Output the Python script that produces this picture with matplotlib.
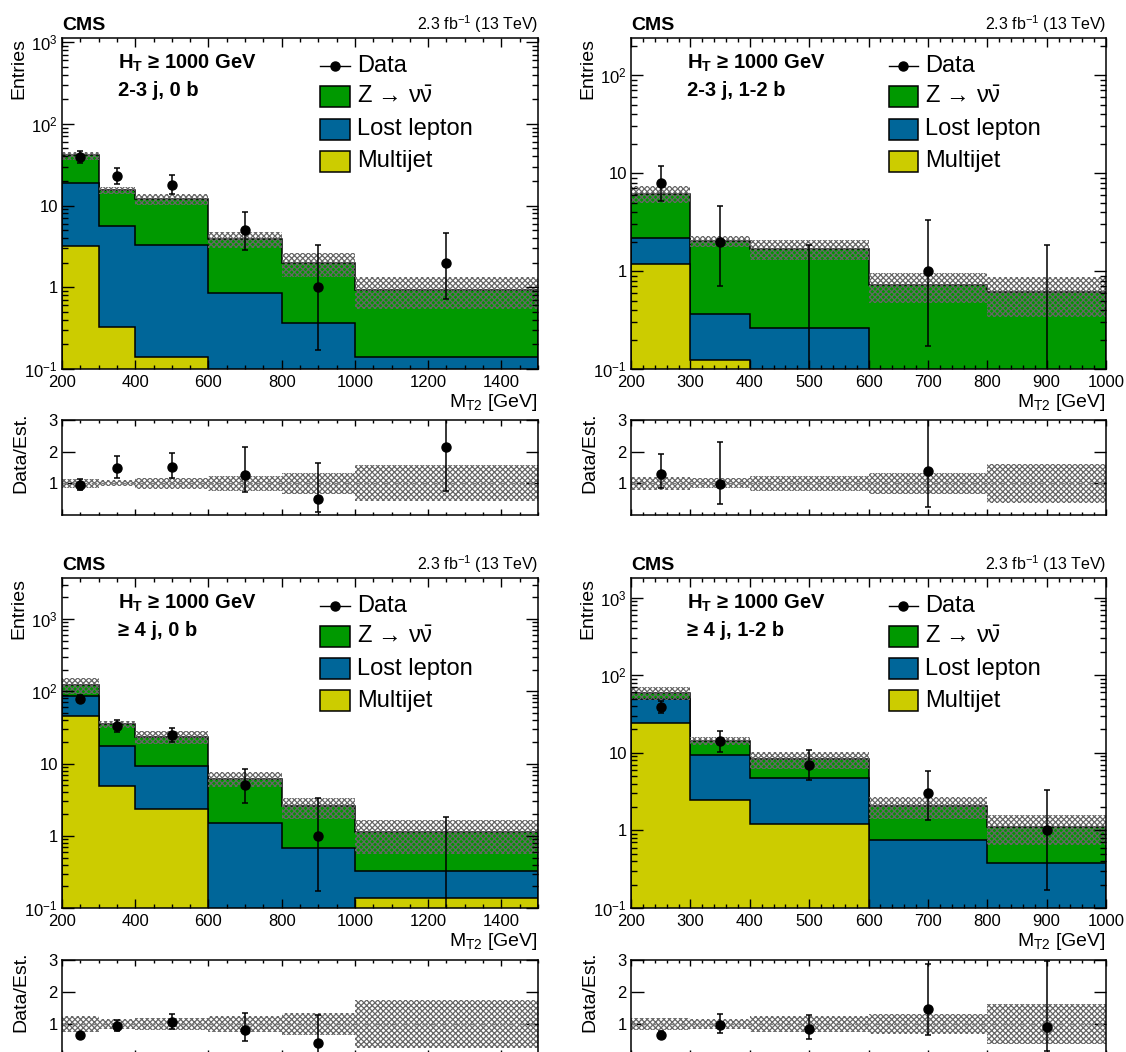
import matplotlib
matplotlib.use("Agg")
import matplotlib.pyplot as plt
import numpy as np
from matplotlib.patches import Rectangle
from matplotlib.lines import Line2D
from matplotlib.ticker import MultipleLocator, LogLocator, FuncFormatter, NullFormatter, FixedLocator, NullLocator

plt.rcParams['font.family'] = ['Liberation Sans', 'DejaVu Sans']
plt.rcParams['mathtext.fontset'] = 'custom'
plt.rcParams['mathtext.rm'] = 'Liberation Sans'
plt.rcParams['mathtext.it'] = 'Liberation Sans:italic'
plt.rcParams['mathtext.bf'] = 'Liberation Sans:bold'
plt.rcParams['hatch.linewidth'] = 0.9

# --- couleurs ---
c_zinv = '#009900'
c_lostlep = '#006699'
c_multijet = '#cccc00'
c_band = '#666666'

# --- binning M_T2 ---
edges_0b = [200, 300, 400, 600, 800, 1000, 1500]
edges_b = [200, 300, 400, 600, 800, 1000]

# --- 2-3 j, 0 b ---
multijet_23j0b = [3.18, 0.327, 0.139, 0, 0, 0]
lostlep_23j0b = [15.5, 5.28, 3.13, 0.86, 0.363, 0.141]
zinv_23j0b = [22.3, 9.9, 8.7, 3.05, 1.62, 0.79]
data_23j0b = [39, 23, 18, 5, 1, 2]
unc_23j0b = [0.11, 0.10, 0.15, 0.22, 0.33, 0.42]
uncr_23j0b = [0.15, 0.09, 0.17, 0.24, 0.33, 0.57]

# --- 2-3 j, 1-2 b ---
multijet_23j12b = [1.19, 0.124, 0, 0, 0]
lostlep_23j12b = [1.0, 0.237, 0.264, 0, 0]
zinv_23j12b = [3.96, 1.66, 1.43, 0.714, 0.61]
data_23j12b = [8, 2, 0, 1, 0]
unc_23j12b = [0.20, 0.13, 0.24, 0.34, 0.44]
uncr_23j12b = [0.20, 0.16, 0.23, 0.33, 0.61]

# --- >=4 j, 0 b ---
multijet_4j0b = [46.1, 4.81, 2.34, 0, 0, 0.137]
lostlep_4j0b = [40.1, 12.4, 6.76, 1.50, 0.683, 0.193]
zinv_4j0b = [35.8, 17.8, 14.5, 4.7, 1.86, 0.78]
data_4j0b = [79, 33, 25, 5, 1, 0]
unc_4j0b = [0.24, 0.11, 0.21, 0.23, 0.33, 0.50]
uncr_4j0b = [0.24, 0.16, 0.20, 0.25, 0.33, 0.74]

# --- >=4 j, 1-2 b ---
multijet_4j12b = [24.0, 2.50, 1.22, 0, 0]
lostlep_4j12b = [24.7, 6.93, 3.47, 0.744, 0.385]
zinv_4j12b = [10.7, 4.87, 3.61, 1.31, 0.725]
data_4j12b = [39, 14, 7, 3, 1]
unc_4j12b = [0.19, 0.13, 0.25, 0.32, 0.42]
uncr_4j12b = [0.20, 0.16, 0.26, 0.31, 0.62]

W, H = 1126, 1052
fig = plt.figure(figsize=(W / 100, H / 100), dpi=100)


def rect(x0, x1, ytop, ybot):
    return [x0 / W, 1 - ybot / H, (x1 - x0) / W, (ybot - ytop) / H]


def poisson_interval(n):
    # intervalle de Garwood (approximation Wilson-Hilferty)
    n = np.asarray(n, float)
    m = np.maximum(n, 1)
    lo = np.where(n > 0, n * (1 - 1 / (9 * m) - 1 / (3 * np.sqrt(m))) ** 3, 0)
    hi = (n + 1) * (1 - 1 / (9 * (n + 1)) + 1 / (3 * np.sqrt(n + 1))) ** 3
    return lo, hi


def log_label(v, pos):
    e = int(round(np.log10(v)))
    if e == 0:
        return '1'
    if e == 1:
        return '10'
    return r'$10^{%d}$' % e


def draw_panel(pos_main, pos_ratio, edges, multijet, lostlep, zinv, data, unc, uncr, ymax, label):
    edges = np.array(edges, float)
    mj = np.array(multijet, float)
    ll = np.array(lostlep, float)
    zn = np.array(zinv, float)
    dat = np.array(data, float)
    unc = np.array(unc, float)
    uncr = np.array(uncr, float)
    centers = 0.5 * (edges[1:] + edges[:-1])
    floor = 1e-3

    ax = fig.add_axes(rect(*pos_main))
    axr = fig.add_axes(rect(*pos_ratio))

    # --- empilement ---
    total = mj + ll + zn
    for vals, col in [(total, c_zinv), (mj + ll, c_lostlep), (mj, c_multijet)]:
        ax.stairs(np.maximum(vals, floor), edges, baseline=floor, fill=True,
                  facecolor=col, edgecolor='black', linewidth=1.1)
    # bande d'incertitude
    ax.stairs(total * (1 + unc), edges, baseline=total * (1 - unc), fill=True,
              facecolor='none', edgecolor=c_band, hatch='xxxxxx', linewidth=0)

    # --- données ---
    lo, hi = poisson_interval(dat)
    ax.vlines(centers, np.maximum(lo, floor), hi, color='black', linewidth=1.1, zorder=5)
    ax.plot(centers, hi, '_', color='black', markersize=4, markeredgewidth=1.1, zorder=5)
    ax.plot(centers[dat > 0], lo[dat > 0], '_', color='black', markersize=4, markeredgewidth=1.1, zorder=5)
    ax.plot(centers[dat > 0], dat[dat > 0], 'o', color='black', markersize=6.5, zorder=6)

    ax.set_yscale('log')
    ax.set_xlim(edges[0], edges[-1])
    ax.set_ylim(0.1, ymax)

    # --- rapport ---
    axr.stairs(1 + uncr, edges, baseline=1 - uncr, fill=True,
               facecolor='none', edgecolor=c_band, hatch='xxxxxx', linewidth=0)
    axr.axhline(1, color='gray', linestyle=(0, (4, 3)), linewidth=1)
    sel = dat > 0
    r = dat[sel] / total[sel]
    rlo = lo[sel] / total[sel]
    rhi = hi[sel] / total[sel]
    axr.vlines(centers[sel], rlo, rhi, color='black', linewidth=1.1, zorder=5)
    axr.plot(centers[sel], rhi, '_', color='black', markersize=4, markeredgewidth=1.1, zorder=5)
    axr.plot(centers[sel], rlo, '_', color='black', markersize=4, markeredgewidth=1.1, zorder=5)
    axr.plot(centers[sel], r, 'o', color='black', markersize=6.5, zorder=6)
    axr.set_xlim(edges[0], edges[-1])
    axr.set_ylim(0, 3)

    # --- axes et graduations ---
    if edges[-1] > 1200:
        major, minor = 200, 50
    else:
        major, minor = 100, 20
    for a in (ax, axr):
        a.xaxis.set_major_locator(MultipleLocator(major))
        a.xaxis.set_minor_locator(MultipleLocator(minor))
        a.tick_params(which='both', direction='in', top=True, right=True, labelsize=12)
        for s in a.spines.values():
            s.set_linewidth(1.1)
    ax.yaxis.set_major_locator(LogLocator(base=10, numticks=10))
    ax.yaxis.set_minor_locator(LogLocator(base=10, subs=np.arange(2, 10), numticks=20))
    ax.yaxis.set_major_formatter(FuncFormatter(log_label))
    ax.yaxis.set_minor_formatter(NullFormatter())
    ax.tick_params(axis='x', which='major', length=6.5, width=1, pad=4)
    ax.tick_params(axis='x', which='minor', length=3.2, width=1)
    ax.tick_params(axis='y', which='major', length=8.6, width=1, pad=3)
    ax.tick_params(axis='y', which='minor', length=4.3, width=1)

    axr.yaxis.set_major_locator(FixedLocator([1, 2, 3]))
    axr.yaxis.set_minor_locator(NullLocator())
    axr.tick_params(axis='x', which='major', length=4.3, width=1, labelbottom=False)
    axr.tick_params(axis='x', which='minor', length=2.2, width=1)
    axr.tick_params(axis='y', which='major', length=9, width=1, pad=3)

    # --- textes ---
    ax.text(0, 1 + 8 / 331, 'CMS', transform=ax.transAxes, fontsize=14,
            fontweight='bold', ha='left', va='baseline')
    ax.text(1, 1 + 8 / 331, r'2.3 fb$^{-1}$ (13 TeV)', transform=ax.transAxes,
            fontsize=11.5, ha='right', va='baseline')
    ax.text(-0.09, 1.0, 'Entries', transform=ax.transAxes, rotation=90,
            fontsize=14, ha='center', va='top')
    ax.text(1, -0.115, r'M$_{\mathrm{T2}}$ [GeV]', transform=ax.transAxes,
            fontsize=14, ha='right', va='baseline')
    axr.text(-0.087, 1.084, 'Data/Est.', transform=axr.transAxes, rotation=90,
             fontsize=14, ha='center', va='top')
    ax.text(0.117, 0.924, r'H$_{\mathbf{T}}$ ≥ 1000 GeV', transform=ax.transAxes,
            fontsize=14.5, fontweight='bold', ha='left', va='center')
    ax.text(0.117, 0.84, label, transform=ax.transAxes,
            fontsize=14.5, fontweight='bold', ha='left', va='center')

    # --- légende ---
    bx0, bx1 = 0.543, 0.604
    bh = 21 / 331
    rows = [0.915, 0.822, 0.725, 0.628]
    ax.add_line(Line2D([bx0, bx1], [rows[0], rows[0]], color='black', linewidth=1,
                       transform=ax.transAxes, clip_on=False))
    ax.add_line(Line2D([0.5 * (bx0 + bx1)], [rows[0]], marker='o', markersize=6.5,
                       color='black', transform=ax.transAxes, clip_on=False))
    for yy, col in zip(rows[1:], [c_zinv, c_lostlep, c_multijet]):
        ax.add_patch(Rectangle((bx0, yy - bh / 2), bx1 - bx0, bh, transform=ax.transAxes,
                               facecolor=col, edgecolor='black', linewidth=1.1, clip_on=False))
    names = ['Data', r'Z → $\mathrm{\nu}\bar{\mathrm{\nu}}$', 'Lost lepton', 'Multijet']
    for yy, name in zip(rows, names):
        ax.text(0.619, yy, name, transform=ax.transAxes, fontsize=17, ha='left', va='center')


draw_panel((62, 538, 38, 369), (62, 538, 420, 515), edges_0b,
           multijet_23j0b, lostlep_23j0b, zinv_23j0b, data_23j0b, unc_23j0b, uncr_23j0b,
           1120, '2-3 j, 0 b')
draw_panel((631, 1106, 38, 369), (631, 1106, 420, 515), edges_b,
           multijet_23j12b, lostlep_23j12b, zinv_23j12b, data_23j12b, unc_23j12b, uncr_23j12b,
           240, '2-3 j, 1-2 b')
draw_panel((62, 538, 578, 908), (62, 538, 960, 1056), edges_0b,
           multijet_4j0b, lostlep_4j0b, zinv_4j0b, data_4j0b, unc_4j0b, uncr_4j0b,
           3700, '≥ 4 j, 0 b')
draw_panel((631, 1106, 578, 908), (631, 1106, 960, 1056), edges_b,
           multijet_4j12b, lostlep_4j12b, zinv_4j12b, data_4j12b, unc_4j12b, uncr_4j12b,
           1790, '≥ 4 j, 1-2 b')

fig.savefig('out.png', dpi=100, facecolor='white')
